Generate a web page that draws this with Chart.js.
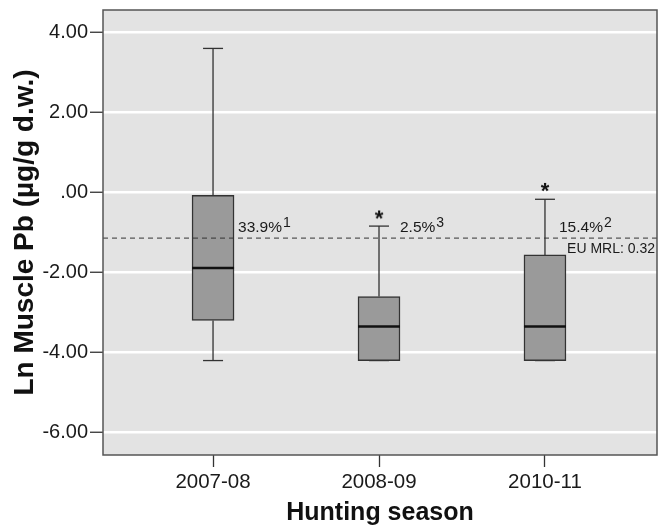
<!DOCTYPE html>
<html>
<head>
<meta charset="utf-8">
<script src="https://cdn.jsdelivr.net/npm/chart.js@4/dist/chart.umd.min.js"></script>
<style>
  body { margin: 0; background: #fff; }
  canvas { display: block; }
</style>
</head>
<body>
<canvas id="chart1" width="665" height="528"></canvas>
<script>
// saisons + valeurs (ln Pb)
const seasons = ['2007-08', '2008-09', '2010-11'];
const whiskLow = [-4.2, -4.2, -4.2];
const q1 = [-3.2, -4.2, -4.2];
const medians = [-1.89, -3.35, -3.35];
const q3 = [-0.07, -2.6, -1.56];
const whiskHigh = [3.6, -0.84, -0.17];
const outliers = [[], [-0.5], [0.19]];
const pctLabels = ['33.9%', '2.5%', '15.4%'];
const pctSup = ['1', '3', '2'];
const yTicks = [-6, -4, -2, 0, 2, 4];
const mrlLn = -1.14;
const mrlText = 'EU MRL: 0.32';

const FONT = "'Liberation Sans', Arial, sans-serif";
const X_MIN = -0.663, X_MAX = 2.675;

// asterisque pour les valeurs extremes
function makeStar() {
    let c = document.createElement('canvas');
    c.width = 20; c.height = 30;
    let ctx = c.getContext('2d');
    ctx.fillStyle = '#111';
    ctx.font = 'bold 22px ' + FONT;
    ctx.textAlign = 'center';
    ctx.textBaseline = 'alphabetic';
    ctx.fillText('*', 10, 15 + 12.6);
    return c;
}

let whiskerPts = [];
let capPts = [];
let outPts = [];
seasons.forEach(function(s, i) {
    whiskerPts.push({ x: i, y: q3[i] }, { x: i, y: whiskHigh[i] }, { x: i, y: null });
    whiskerPts.push({ x: i, y: whiskLow[i] }, { x: i, y: q1[i] }, { x: i, y: null });
    capPts.push({ x: i, y: whiskHigh[i] }, { x: i, y: whiskLow[i] });
    outliers[i].forEach(function(v) { outPts.push({ x: i, y: v }); });
});

const frame = {
    id: 'frame',
    beforeDraw: function(chart) {
        let a = chart.chartArea, ctx = chart.ctx;
        ctx.save();
        ctx.fillStyle = '#e3e3e3';
        ctx.fillRect(a.left, a.top, a.right - a.left, a.bottom - a.top);
        ctx.restore();
    },
    afterDraw: function(chart) {
        let a = chart.chartArea, ctx = chart.ctx;
        let xs = chart.scales.x, ys = chart.scales.y;
        ctx.save();
        ctx.strokeStyle = '#555';
        ctx.lineWidth = 1.5;
        ctx.strokeRect(a.left, a.top, a.right - a.left, a.bottom - a.top);

        // pourcentages au dessus du seuil
        let offs = [25, 21, 14];
        ctx.fillStyle = '#1a1a1a';
        ctx.textBaseline = 'alphabetic';
        ctx.textAlign = 'left';
        let yBase = ys.getPixelForValue(-0.99);
        for (let i = 0; i < seasons.length; i++) {
            let x = xs.getPixelForValue(i) + offs[i];
            ctx.font = '15.5px ' + FONT;
            ctx.fillText(pctLabels[i], x, yBase);
            let w = ctx.measureText(pctLabels[i]).width;
            ctx.font = '14px ' + FONT;
            ctx.fillText(pctSup[i], x + w + 1, yBase - 5);
        }
        ctx.font = '14px ' + FONT;
        ctx.textAlign = 'right';
        ctx.fillText(mrlText, a.right - 2, ys.getPixelForValue(mrlLn) + 15);
        ctx.restore();
    }
};

new Chart(document.getElementById('chart1'), {
    type: 'bar',
    data: {
        datasets: [{
            type: 'line',
            data: [{ x: X_MIN, y: mrlLn }, { x: X_MAX, y: mrlLn }],
            borderColor: '#333',
            borderWidth: 1,
            borderDash: [5, 4],
            pointRadius: 0,
            order: -1
        }, {
            type: 'line',
            data: seasons.map(function(s, i) { return { x: i, y: medians[i] }; }),
            showLine: false,
            pointStyle: 'line',
            pointRadius: 21,
            pointBorderWidth: 2.5,
            pointBorderColor: '#111',
            order: 0
        }, {
            type: 'line',
            data: outPts,
            showLine: false,
            pointStyle: makeStar(),
            order: 0
        }, {
            data: seasons.map(function(s, i) { return { x: i, y: [q1[i], q3[i]] }; }),
            backgroundColor: '#9a9a9a',
            borderColor: '#333',
            borderWidth: 1.5,
            borderSkipped: false,
            barThickness: 42,
            order: 1
        }, {
            type: 'line',
            data: whiskerPts,
            borderColor: '#333',
            borderWidth: 1.3,
            pointRadius: 0,
            spanGaps: false,
            order: 2
        }, {
            type: 'line',
            data: capPts,
            showLine: false,
            pointStyle: 'line',
            pointRadius: 10,
            pointBorderWidth: 1.3,
            pointBorderColor: '#333',
            order: 2
        }]
    },
    options: {
        responsive: false,
        animation: false,
        layout: { autoPadding: false, padding: { top: 10, right: 8, left: 0, bottom: 0 } },
        plugins: { legend: { display: false }, tooltip: { enabled: false } },
        scales: {
            x: {
                type: 'linear',
                offset: false,
                min: X_MIN,
                max: X_MAX,
                afterBuildTicks: function(scale) {
                    scale.ticks = seasons.map(function(s, i) { return { value: i }; });
                },
                afterFit: function(scale) {
                    scale.height = 73;
                    scale.paddingLeft = 0;
                    scale.paddingRight = 0;
                },
                grid: { offset: false, drawOnChartArea: false, tickLength: 12, tickColor: '#333', tickWidth: 1.3 },
                border: { display: false },
                ticks: {
                    color: '#1a1a1a',
                    font: { family: FONT, size: 20.5 },
                    padding: 3,
                    maxRotation: 0,
                    callback: function(v) { return seasons[v] !== undefined ? seasons[v] : ''; }
                },
                title: {
                    display: true,
                    text: 'Hunting season',
                    color: '#111',
                    font: { family: FONT, size: 25, weight: 'bold' },
                    padding: { top: 0, bottom: 0 }
                }
            },
            y: {
                min: -6.56,
                max: 4.56,
                afterBuildTicks: function(scale) {
                    scale.ticks = yTicks.map(function(v) { return { value: v }; });
                },
                afterFit: function(scale) {
                    scale.width = 103;
                    scale.paddingTop = 0;
                    scale.paddingBottom = 0;
                },
                grid: { color: '#fff', lineWidth: 2.5, tickLength: 13, tickColor: '#333', tickWidth: 1.3 },
                border: { display: false },
                ticks: {
                    color: '#1a1a1a',
                    font: { family: FONT, size: 20 },
                    padding: 2,
                    callback: function(v) { return v === 0 ? '.00' : v.toFixed(2); }
                },
                title: {
                    display: true,
                    text: 'Ln Muscle Pb (µg/g d.w.)',
                    color: '#111',
                    font: { family: FONT, size: 28, weight: 'bold' },
                    padding: { top: 8, bottom: 0 }
                }
            }
        }
    },
    plugins: [frame]
});
</script>
</body>
</html>
